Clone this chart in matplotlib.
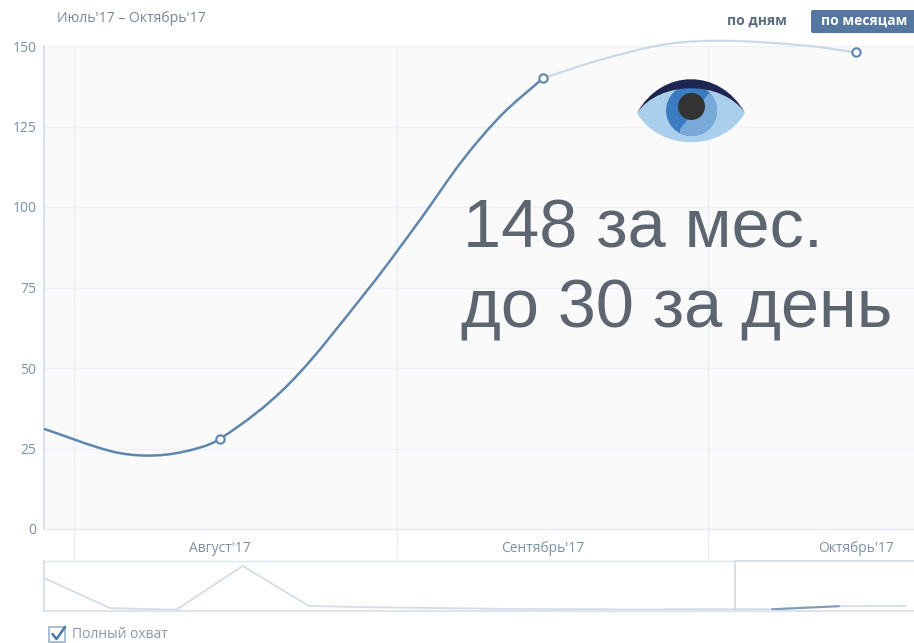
import matplotlib
matplotlib.use("Agg")
import matplotlib.pyplot as plt
from matplotlib.patches import Circle, FancyBboxPatch, PathPatch, Polygon, Rectangle
from matplotlib.path import Path

# --- data (x in days since 1 Aug 2017) ---
dark_days = [-2.88, 3.5, 7.0, 10.5, 14.0, 20.7, 28.4, 33.2, 37.3, 41.0, 45.0]
dark_vals = [31.1, 24.2, 22.8, 24.0, 28.0, 45.3, 75.2, 96.0, 114.6, 128.5, 140.0]
light_days = [45.0, 50.5, 56.9, 62.7, 70.6, 75.0]
light_vals = [140.0, 145.7, 150.6, 151.6, 150.0, 148.0]
point_days = [14, 45, 75]
point_vals = [28, 140, 148]
month_starts = [0, 31, 60.8]
month_labels = ["Август'17", "Сентябрь'17", "Октябрь'17"]
y_ticks = [0, 25, 50, 75, 100, 125, 150]
nav_idx = list(range(14))
nav_vals = [1180, 70, 10, 1630, 150, 100, 70, 40, 30, 20, 31, 28, 140, 148]
big_lines = ["148 за мес.", "до 30 за день"]

W, H = 914, 643
plt.rcParams["font.family"] = ["Open Sans", "DejaVu Sans"]
fig = plt.figure(figsize=(W / 100, H / 100), dpi=100, facecolor="white")


def px_axes(l, t, r, b, **kw):
    return fig.add_axes([l / W, 1 - b / H, (r - l) / W, (b - t) / H], **kw)


def smooth_path(xs, ys):
    """Bezier path through the read knots, with tangents scaled to the knot spacing."""
    n = len(xs)
    slopes = []
    for i in range(n):
        a, b = max(i - 1, 0), min(i + 1, n - 1)
        slopes.append((ys[b] - ys[a]) / (xs[b] - xs[a]))
    verts = [(xs[0], ys[0])]
    codes = [Path.MOVETO]
    for i in range(n - 1):
        h = (xs[i + 1] - xs[i]) / 3
        verts += [(xs[i] + h, ys[i] + slopes[i] * h),
                  (xs[i + 1] - h, ys[i + 1] - slopes[i + 1] * h),
                  (xs[i + 1], ys[i + 1])]
        codes += [Path.CURVE4] * 3
    return Path(verts, codes)


TXT = "#7c90a8"
GRID = "#eef0f5"
EDGE = "#cfdae7"

# main chart
ax = px_axes(44, 46, 914, 529, facecolor="#fafafb")
ax.set_xlim(-2.88, 80.6)
ax.set_ylim(0, 150)
for s in ("top", "right"):
    ax.spines[s].set_visible(False)
ax.spines["left"].set_color(EDGE)
ax.spines["left"].set_linewidth(1.2)
ax.spines["bottom"].set_color("#e6eaf0")
ax.spines["bottom"].set_linewidth(1)
ax.set_yticks(y_ticks)
ax.set_xticks(point_days, month_labels)
ax.tick_params(axis="y", length=0, pad=5.5, labelsize=10, labelcolor=TXT)
ax.tick_params(axis="x", length=0, pad=8.5, labelsize=10, labelcolor=TXT)
ax.set_axisbelow(True)
ax.grid(axis="y", color=GRID, lw=1)
ax.vlines(month_starts, -9.94, 150, color="#e9ecf2", lw=1, clip_on=False, zorder=1)
ax.add_patch(PathPatch(smooth_path(light_days, light_vals), fc="none", ec="#ccd9e7", lw=1.6,
                       clip_on=False, zorder=3))
ax.add_patch(PathPatch(smooth_path(dark_days, dark_vals), fc="none", ec="#5f86ae", lw=1.8,
                       clip_on=False, zorder=4))
ax.plot(point_days, point_vals, ls="none", marker="o", ms=6, mfc="white", mec="#5f86ae",
        mew=1.5, clip_on=False, zorder=5)

# navigator
nav = px_axes(44, 561, 914, 611, facecolor="white")
nav.set_xlim(0, 13.14)
nav.set_ylim(-37, 1813)
nav.set_xticks([])
nav.set_yticks([])
nav.spines["right"].set_visible(False)
for s, w in (("top", 1.0), ("left", 1.2), ("bottom", 1.5)):
    nav.spines[s].set_color("#dde4ec" if s != "left" else EDGE)
    nav.spines[s].set_linewidth(w)
nav.plot(nav_idx, nav_vals, color="#d3dce7", lw=1.3, solid_joinstyle="round")
nav.plot(nav_idx[11:13], nav_vals[11:13], color="#7f9cbb", lw=1.5)
nav.axvline(10.44, color="#c8d3df", lw=1.1)
nav.plot([10.44, 13.14], [1813, 1813], color="#c8d3df", lw=1.2, clip_on=False)

# decorations in pixel coordinates
ov = fig.add_axes([0, 0, 1, 1], facecolor="none", zorder=10)
ov.set_xlim(0, W)
ov.set_ylim(H, 0)
ov.axis("off")

ov.text(57, 18, "Июль'17 – Октябрь'17", fontsize=10.1, color="#77879b", va="center")
ov.text(757, 21, "по дням", fontsize=10, color="#5a6b80", weight="bold", ha="center", va="center")
ov.add_patch(FancyBboxPatch((811, 10), 110, 23, boxstyle="round,pad=0,rounding_size=2",
                            fc="#55779f", ec="none"))
ov.text(864, 21, "по месяцам", fontsize=10, color="white", weight="bold", ha="center", va="center")

# big annotation
for line, x, y in zip(big_lines, (463, 461), (248, 327)):
    ov.text(x, y, line, fontsize=49.2, color="#5d6571", family="Liberation Sans", va="baseline")

# eye
eye_outline = Path(
    [(637, 113), (662, 79), (720, 79), (745, 113), (722, 152), (660, 152), (637, 113)],
    [Path.MOVETO, Path.CURVE4, Path.CURVE4, Path.CURVE4, Path.CURVE4, Path.CURVE4, Path.CURVE4])
ov.add_patch(PathPatch(eye_outline, fc="#a9cfec", ec="none", zorder=1))
iris = Circle((691.5, 110.5), 25.5, fc="#3b7bc0", ec="none", zorder=2)
ov.add_patch(iris)
wedge = Polygon([(680, 129), (710, 92), (725, 90), (725, 140), (680, 140)], fc="#79a9d9", ec="none", zorder=3)
ov.add_patch(wedge)
wedge.set_clip_path(iris)
ov.add_patch(Circle((691.5, 106.5), 13.5, fc="#333333", ec="none", zorder=5))
lid = Path(
    [(637, 113), (662, 68), (720, 68), (745, 113), (722, 80), (660, 80), (637, 113)],
    [Path.MOVETO, Path.CURVE4, Path.CURVE4, Path.CURVE4, Path.CURVE4, Path.CURVE4, Path.CURVE4])
ov.add_patch(PathPatch(lid, fc="#1e2550", ec="none", zorder=6))

# checkbox
ov.add_patch(Rectangle((49, 627), 16, 15, fc="white", ec="#9db3cc", lw=1.2))
ov.plot([52.5, 56.5, 65], [634, 639, 627], color="#4a76a8", lw=1.8, solid_capstyle="round")
ov.text(72, 634, "Полный охват", fontsize=10, color="#8a99ab", va="center")

fig.savefig("out.png", dpi=100)
